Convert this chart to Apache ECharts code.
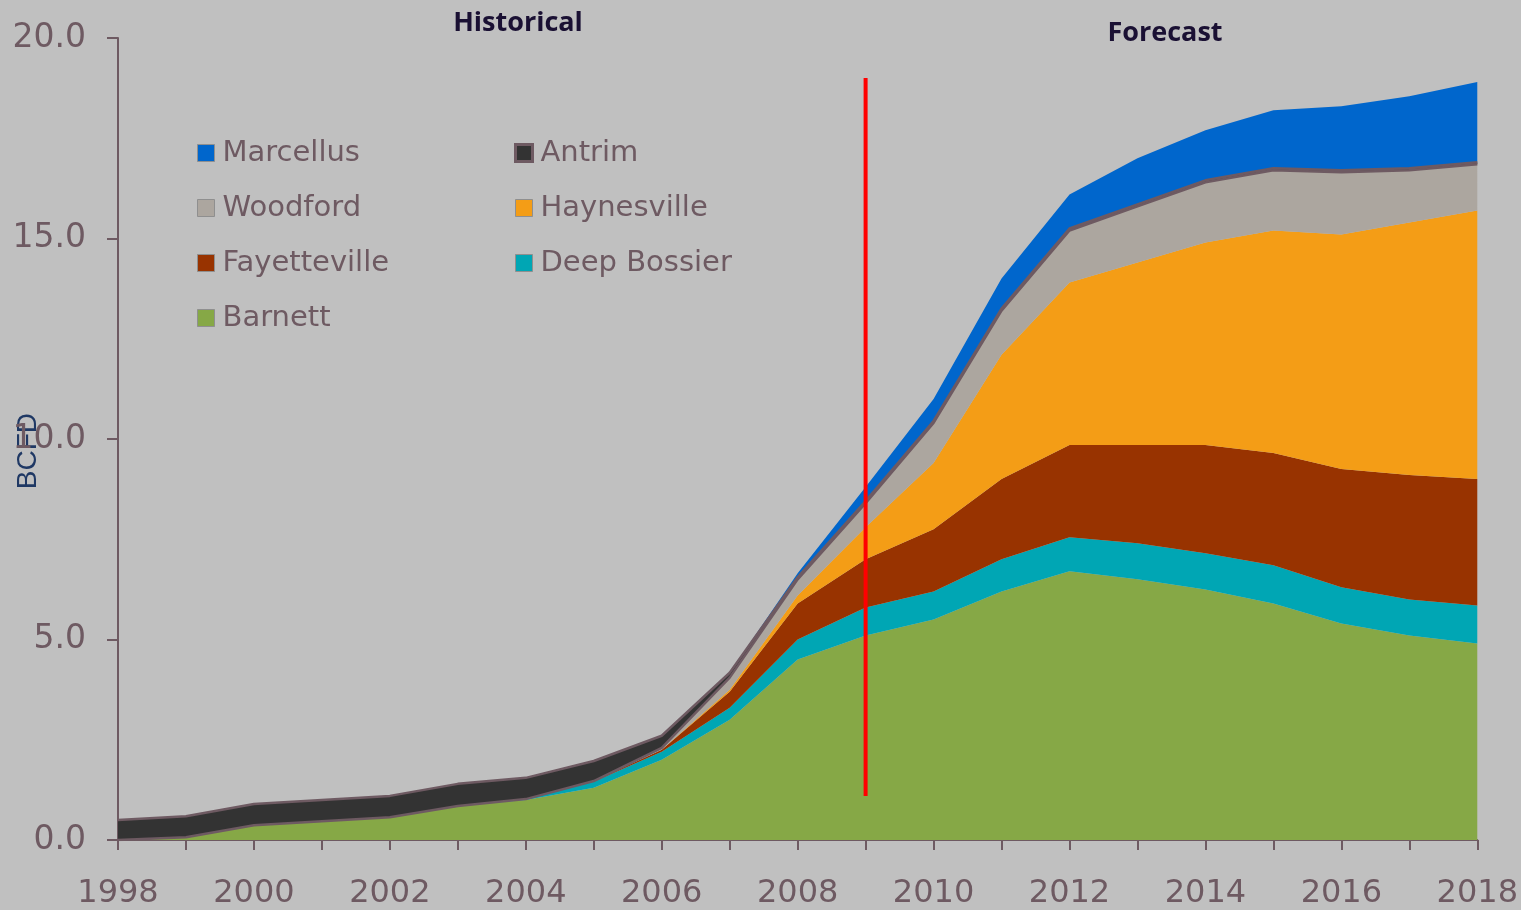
<!DOCTYPE html>
<html>
<head>
<meta charset="utf-8">
<script src="https://cdn.jsdelivr.net/npm/echarts@6/dist/echarts.min.js"></script>
<style>
html,body{margin:0;padding:0;background:#c0c0c0;}
#chart{width:1521px;height:910px;}
</style>
</head>
<body>
<div id="chart"></div>
<script>
const years = ['1998','1999','2000','2001','2002','2003','2004','2005','2006','2007','2008','2009','2010','2011','2012','2013','2014','2015','2016','2017','2018'];
const barnett      = [0.0,0.07,0.37,0.47,0.57,0.85,1.0,1.3,2.0,3.0,4.5,5.1,5.5,6.2,6.7,6.5,6.25,5.9,5.4,5.1,4.9];
const deepBossier  = [0,0,0,0,0,0,0.02,0.15,0.2,0.3,0.5,0.7,0.7,0.8,0.85,0.9,0.9,0.95,0.9,0.9,0.95];
const fayetteville = [0,0,0,0,0,0,0,0.02,0.05,0.4,0.9,1.2,1.55,2.0,2.3,2.45,2.7,2.8,2.95,3.1,3.15];
const haynesville  = [0,0,0,0,0,0,0,0,0,0.05,0.2,0.8,1.65,3.1,4.05,4.55,5.05,5.55,5.85,6.3,6.7];
const woodford     = [0,0,0,0,0,0,0,0,0.05,0.3,0.4,0.6,1.0,1.1,1.3,1.4,1.5,1.5,1.55,1.3,1.15];
const antrim       = [0.5,0.52,0.53,0.53,0.53,0.55,0.53,0.5,0.3,0.12,0.05,0.05,0.05,0.05,0.05,0.05,0.05,0.05,0.05,0.05,0.05];
const marcellus    = [0,0,0,0,0,0,0,0,0,0,0.1,0.35,0.55,0.75,0.85,1.15,1.25,1.45,1.6,1.8,2.0];
const yTicks = [0,5,10,15,20];
const dividerYear = '2009';
const dividerRange = [1.1, 19.0];

const mauve = '#6e5a62';
const colors = {
  Barnett:'#86a846', 'Deep Bossier':'#00a6b4', Fayetteville:'#983300',
  Haynesville:'#f49d16', Woodford:'#aca69f', Antrim:'#333333', Marcellus:'#0066cc'
};

function area(name, data, lineW) {
  return {
    name: name, type:'line', stack:'total', data: data,
    symbol:'none', smooth:false,
    lineStyle:{ width: lineW || 0, color: mauve },
    itemStyle:{ color: colors[name] },
    areaStyle:{ color: colors[name], opacity:1 },
    emphasis:{ disabled:true }
  };
}

const chart = echarts.init(document.getElementById('chart'));
const legendText = { color: mauve, fontSize: 29, fontFamily: 'DejaVu Sans', lineHeight: 30, padding:[0,0,0,3] };
function legendItem(name){
  const it = { name: name, itemStyle:{ color: colors[name], borderColor:'#8f8f8f', borderWidth:1 } };
  if (name === 'Antrim') it.itemStyle = { color: colors[name], borderColor: mauve, borderWidth: 3 };
  return it;
}
chart.setOption({
  backgroundColor:'#c0c0c0',
  animation:false,
  grid:{ left:118, right:43, top:38, bottom:68 },
  title:[
    { text:'Historical', left:513, top:5, textAlign:'center',
      textStyle:{ color:'#1a1033', fontSize:27, fontWeight:'bold', fontFamily:'Open Sans' } },
    { text:'Forecast', left:1160, top:15, textAlign:'center',
      textStyle:{ color:'#1a1033', fontSize:27, fontWeight:'bold', fontFamily:'Open Sans' } }
  ],
  legend:[
    { orient:'vertical', left:192, top:133, itemWidth:17, itemHeight:17, itemGap:25,
      textStyle: legendText, icon:'rect', selectedMode:false,
      data:['Marcellus','Woodford','Fayetteville','Barnett'].map(legendItem) },
    { orient:'vertical', left:509, top:133, itemWidth:17, itemHeight:17, itemGap:25,
      textStyle: legendText, icon:'rect', selectedMode:false,
      data:['Antrim','Haynesville','Deep Bossier'].map(legendItem) }
  ],
  graphic:[
    { type:'text', left:14, top:413, rotation:Math.PI/2,
      style:{ text:'BCFD', fill:'#1f3864', font:'28px "Liberation Sans"' } }
  ],
  xAxis:{
    type:'category', data: years, boundaryGap:false,
    axisLine:{ show:true, lineStyle:{ color: mauve, width:2 } },
    axisTick:{ show:true, interval:0, length:10, lineStyle:{ color: mauve, width:2 } },
    axisLabel:{ interval:1, color: mauve, fontSize:32, fontFamily:'DejaVu Sans', margin:38 },
    splitLine:{ show:false }
  },
  yAxis:{
    type:'value', min:0, max:20, interval:5,
    axisLine:{ show:true, lineStyle:{ color: mauve, width:2 } },
    axisTick:{ show:true, length:11, lineStyle:{ color: mauve, width:2 } },
    axisLabel:{ color: mauve, fontSize:33, fontFamily:'DejaVu Sans', margin:32,
      formatter: v => yTicks.includes(v) ? v.toFixed(1) : '' },
    splitLine:{ show:false }
  },
  series:[
    area('Barnett', barnett),
    area('Deep Bossier', deepBossier),
    area('Fayetteville', fayetteville),
    area('Haynesville', haynesville),
    area('Woodford', woodford, 2.5),
    area('Antrim', antrim, 2.5),
    area('Marcellus', marcellus),
    { name:'divider', type:'line', symbol:'none', z:10,
      data:[[dividerYear, dividerRange[0]],[dividerYear, dividerRange[1]]],
      lineStyle:{ color:'#ff0000', width:4 }, emphasis:{ disabled:true } }
  ]
});
</script>
</body>
</html>
